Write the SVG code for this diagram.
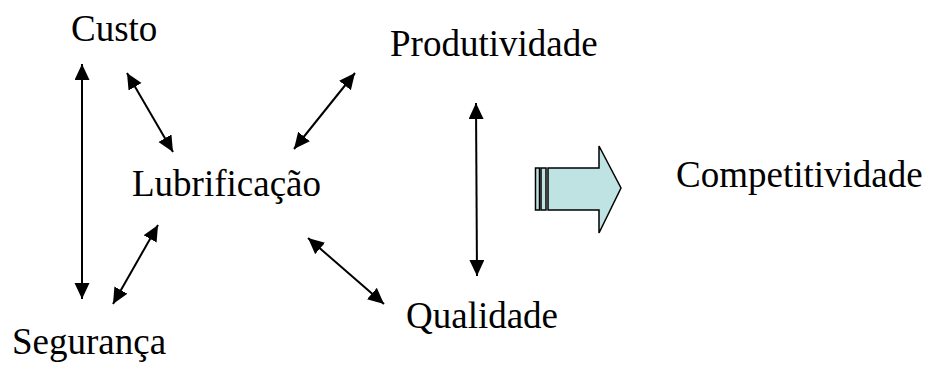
<svg xmlns="http://www.w3.org/2000/svg" width="928" height="365" viewBox="0 0 928 365">
<style>
text{font-family:"Liberation Serif","Times New Roman",serif;font-size:37px;fill:#000}
.c{stroke:#000;stroke-width:2;fill:none;marker-start:url(#ah);marker-end:url(#ah)}
.blk{fill:#BFE3E3;stroke:#000;stroke-width:1.5}
</style>
<defs>
<marker id="ah" markerUnits="userSpaceOnUse" markerWidth="17" markerHeight="16" refX="16" refY="7.5" orient="auto-start-reverse" viewBox="0 0 17 16">
<path d="M0,0 L16,7.5 L0,15 z" fill="#000"/>
</marker>
</defs>
<g id="custo"><text x="71" y="41">Custo</text></g>
<g id="produtividade"><text x="390" y="56">Produtividade</text></g>
<g id="lubrificacao"><text x="132" y="196">Lubrificação</text></g>
<g id="qualidade"><text x="406" y="328">Qualidade</text></g>
<g id="seguranca"><text x="12" y="354">Segurança</text></g>
<g id="competitividade"><text x="676" y="187">Competitividade</text></g>
<g id="seta">
<rect class="blk" x="535.5" y="168" width="4" height="42"/>
<rect class="blk" x="541" y="168" width="5" height="42"/>
<path class="blk" d="M548,168 L599,168 L599,146 L621,188 L599,233 L599,210 L548,210 Z"/>
</g>
<g id="connectors">
<line class="c" x1="82" y1="64" x2="82" y2="299"/>
<line class="c" x1="127" y1="73" x2="173" y2="152"/>
<line class="c" x1="113" y1="304" x2="158" y2="225"/>
<line class="c" x1="355" y1="73" x2="294" y2="149"/>
<line class="c" x1="308" y1="238" x2="384" y2="304"/>
<line class="c" x1="476" y1="103" x2="477" y2="276"/>
</g>
</svg>
